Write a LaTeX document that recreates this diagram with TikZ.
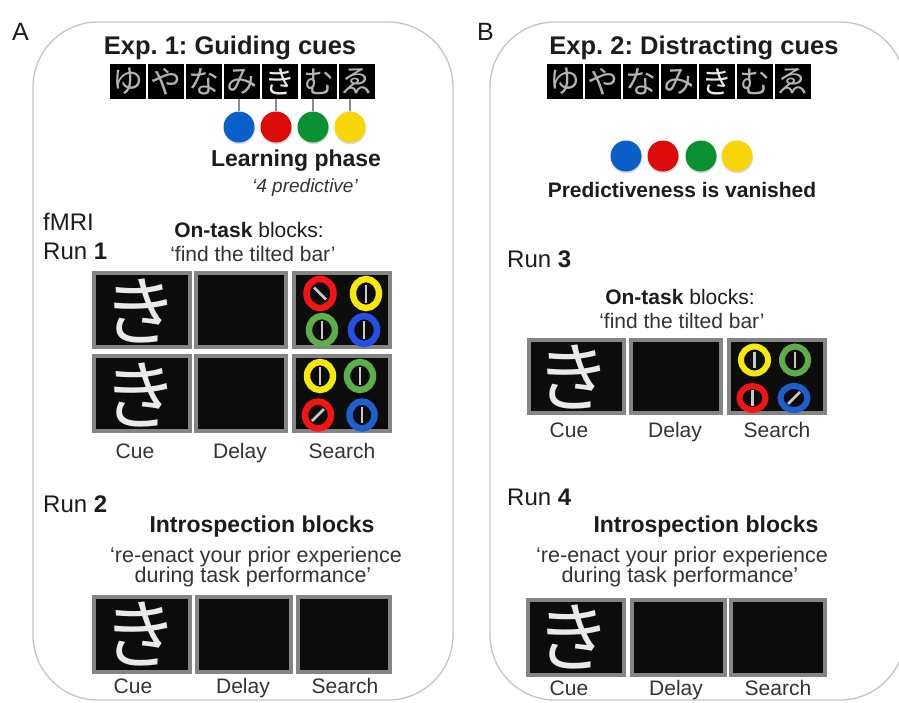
\documentclass[tikz,border=0pt]{standalone}
\usepackage{fontspec}
\setmainfont{Liberation Sans}
\newfontfamily\jp{Noto Sans CJK JP}
\usetikzlibrary{shadows}
\newcommand\myfs[1]{\fontsize{#1}{#1}\selectfont}
\frenchspacing
\definecolor{panelgray}{HTML}{C4C4C4}
\definecolor{textblack}{HTML}{1C1C1C}
\definecolor{textgray}{HTML}{333333}
\definecolor{framegray}{HTML}{858585}
\definecolor{screenblack}{HTML}{0C0C0C}
\definecolor{kanagray}{HTML}{B4B4B4}
\definecolor{kanawhite}{HTML}{EAEAEA}
\definecolor{linkgray}{HTML}{8C8C8C}
\definecolor{lblue}{HTML}{0B5FC9}
\definecolor{lred}{HTML}{DD0A0A}
\definecolor{lgreen}{HTML}{0A9131}
\definecolor{lyellow}{HTML}{F7D508}
\definecolor{sred}{HTML}{F51414}
\definecolor{syellow}{HTML}{F5E80A}
\definecolor{sgreen}{HTML}{5DAD4A}
\definecolor{sblue}{HTML}{2450E6}
\definecolor{sblueb}{HTML}{1C5FCF}
\definecolor{bargray}{HTML}{C8C8C8}
\begin{document}
\begin{tikzpicture}[x=1pt,y=-1pt,
  panel/.style={draw=panelgray, line width=1.3pt, rounded corners=65pt},
  txt/.style={inner sep=0pt, anchor=base, text=textblack},
  lbl/.style={inner sep=0pt, anchor=base, text=textgray, font=\myfs{21}},
  kcell/.style={fill=black, inner sep=0pt, minimum width=36pt, minimum height=35pt, font=\jp\myfs{31}},
  lcirc/.style={circle, inner sep=0pt, minimum size=31pt, drop shadow={opacity=0.3, shadow xshift=0.4pt, shadow yshift=-1.8pt}},
  screen/.style={draw=framegray, line width=4pt, fill=screenblack, inner sep=0pt},
  cuechar/.style={text=kanawhite, font=\jp\myfs{76}},
  ringA/.style={line width=6.5pt},
  ringB/.style={line width=6pt},
  barline/.style={draw=bargray, line width=2.6pt},
  link/.style={draw=linkgray, line width=1.3pt}
]
\useasboundingbox (0,0) rectangle (899,702);
% panels
\draw[panel] (33,22) rectangle (453,700);
\draw[panel] (490,22) rectangle (905,700);
\node[txt, anchor=base west, font=\myfs{25}] (labA) at (12,40) {A};
\node[txt, anchor=base west, font=\myfs{25}] (labB) at (477,40) {B};

% ===== Panel A =====
\node[txt, font=\bfseries\myfs{25.5}] (titleA) at (230,54) {Exp. 1: Guiding cues};
\foreach \k/\c [count=\i from 0] in {ゆ/kanagray,や/kanagray,な/kanagray,み/kanagray,き/kanawhite,む/kanagray,ゑ/kanagray}{
  \node[kcell, text=\c] (kA\i) at ({128+38.1*\i},81.5) {\k};
}
\node[lcirc, fill=lblue] (cAb) at (239,127) {};
\node[lcirc, fill=lred] (cAr) at (276,127) {};
\node[lcirc, fill=lgreen] (cAg) at (313,127) {};
\node[lcirc, fill=lyellow] (cAy) at (350,127) {};
\draw[link] (cAb.north) -- (cAb.north |- kA3.south);
\draw[link] (cAr.north) -- (cAr.north |- kA4.south);
\draw[link] (cAg.north) -- (cAg.north |- kA5.south);
\draw[link] (cAy.north) -- (cAy.north |- kA6.south);
\node[txt, font=\bfseries\myfs{23}] (learn) at (296,166) {Learning phase};
\node[txt, text=textgray, font=\itshape\myfs{19}] (pred) at (305,192) {‘4 predictive’};

\node[txt, anchor=base west, font=\myfs{24}] (fmri) at (43,230) {fMRI};
\node[txt, anchor=base west, font=\myfs{24}] (run1) at (43,259) {Run \textbf{1}};
\node[txt, font=\myfs{21}] (ontA) at (249,237) {\textbf{On-task} blocks:};
\node[txt, text=textgray, font=\myfs{21}] (findA) at (253,261) {‘find the tilted bar’};

% run 1 row 1
\node[screen, minimum width=96pt, minimum height=74pt] (a1cue) at (142,310) {};
\node[cuechar] (a1k) at (140,311) {き};
\node[screen, minimum width=90pt, minimum height=74pt] (a1del) at (241,310) {};
\node[screen, minimum width=96pt, minimum height=74pt] (a1sea) at (342,310) {};
\draw[ringA, draw=sred] (320,293.5) ellipse [x radius=13.5pt, y radius=14.5pt];
\draw[ringA, draw=syellow] (366,293.5) ellipse [x radius=13pt, y radius=14.5pt];
\draw[ringA, draw=sgreen] (322,330) ellipse [x radius=13pt, y radius=14pt];
\draw[ringA, draw=sblue] (364,330) ellipse [x radius=13pt, y radius=14pt];
\draw[barline] (314,287.5) -- (326,299.5);
\draw[barline] (366,284.5) -- (366,302.5);
\draw[barline] (322,321) -- (322,339);
\draw[barline] (364,321) -- (364,339);
% run 1 row 2
\node[screen, minimum width=96pt, minimum height=75pt] (a2cue) at (142,393.5) {};
\node[cuechar] (a2k) at (140,394.5) {き};
\node[screen, minimum width=90pt, minimum height=75pt] (a2del) at (241,393.5) {};
\node[screen, minimum width=96pt, minimum height=75pt] (a2sea) at (342,393.5) {};
\draw[ringA, draw=syellow] (320,376) ellipse [x radius=13pt, y radius=14pt];
\draw[ringA, draw=sgreen] (360,376) ellipse [x radius=13pt, y radius=14pt];
\draw[ringA, draw=sred] (318,415) ellipse [x radius=13pt, y radius=13.5pt];
\draw[ringA, draw=sblueb] (362,415) ellipse [x radius=12.5pt, y radius=13.5pt];
\draw[barline] (320,367) -- (320,385);
\draw[barline] (360,367) -- (360,385);
\draw[barline] (312,421) -- (324,409);
\draw[barline] (362,407) -- (362,423);
\node[lbl] (a1l1) at (135,458) {Cue};
\node[lbl] (a1l2) at (240,458) {Delay};
\node[lbl] (a1l3) at (342,458) {Search};

% run 2
\node[txt, anchor=base west, font=\myfs{24}] (run2) at (43,512) {Run \textbf{2}};
\node[txt, font=\bfseries\myfs{23}] (introA) at (262,532) {Introspection blocks};
\node[txt, text=textgray, font=\myfs{21.5}] (reA1) at (256,562) {‘re-enact your prior experience};
\node[txt, text=textgray, font=\myfs{21.5}] (reA2) at (253,582) {during task performance’};
\node[screen, minimum width=96pt, minimum height=75pt] (a3cue) at (142,634.5) {};
\node[cuechar] (a3k) at (140,634) {き};
\node[screen, minimum width=94pt, minimum height=75pt] (a3del) at (244,634.5) {};
\node[screen, minimum width=92pt, minimum height=75pt] (a3sea) at (344,634.5) {};
\node[lbl] (a3l1) at (133,693) {Cue};
\node[lbl] (a3l2) at (243,693) {Delay};
\node[lbl] (a3l3) at (345,693) {Search};

% ===== Panel B =====
\node[txt, font=\bfseries\myfs{25.5}] (titleB) at (694,54) {Exp. 2: Distracting cues};
\foreach \k/\c [count=\i from 0] in {ゆ/kanagray,や/kanagray,な/kanagray,み/kanagray,き/kanawhite,む/kanagray,ゑ/kanagray}{
  \node[kcell, text=\c] (kB\i) at ({565+38*\i},81.5) {\k};
}
\node[lcirc, fill=lblue] (cBb) at (626,156) {};
\node[lcirc, fill=lred] (cBr) at (663,156) {};
\node[lcirc, fill=lgreen] (cBg) at (701,156) {};
\node[lcirc, fill=lyellow] (cBy) at (737,156) {};
\node[txt, font=\bfseries\myfs{21}] (vanish) at (682,197) {Predictiveness is vanished};

\node[txt, anchor=base west, font=\myfs{24}] (run3) at (507,267) {Run \textbf{3}};
\node[txt, font=\myfs{21}] (ontB) at (680,304) {\textbf{On-task} blocks:};
\node[txt, text=textgray, font=\myfs{21}] (findB) at (682,328) {‘find the tilted bar’};
\node[screen, minimum width=95pt, minimum height=73pt] (b1cue) at (576.5,376.5) {};
\node[cuechar] (b1k) at (573,377) {き};
\node[screen, minimum width=90pt, minimum height=73pt] (b1del) at (676,376.5) {};
\node[screen, minimum width=96pt, minimum height=73pt] (b1sea) at (777,376.5) {};
\draw[ringB, draw=syellow] (754.5,360) ellipse [x radius=13.5pt, y radius=13.5pt];
\draw[ringB, draw=sgreen] (795,360) ellipse [x radius=13pt, y radius=13.5pt];
\draw[ringB, draw=sred] (752.5,398) ellipse [x radius=13pt, y radius=12pt];
\draw[ringB, draw=sblueb] (794,398) ellipse [x radius=13.5pt, y radius=12pt];
\draw[barline] (754.5,352) -- (754.5,368);
\draw[barline] (795,352) -- (795,368);
\draw[barline] (752.5,390) -- (752.5,406);
\draw[barline] (788,404) -- (800,392);
\node[lbl] (b1l1) at (569,437) {Cue};
\node[lbl] (b1l2) at (675,437) {Delay};
\node[lbl] (b1l3) at (777,437) {Search};

\node[txt, anchor=base west, font=\myfs{24}] (run4) at (507,505) {Run \textbf{4}};
\node[txt, font=\bfseries\myfs{23}] (introB) at (706,532) {Introspection blocks};
\node[txt, text=textgray, font=\myfs{21.5}] (reB1) at (682,562) {‘re-enact your prior experience};
\node[txt, text=textgray, font=\myfs{21.5}] (reB2) at (680,582) {during task performance’};
\node[screen, minimum width=96pt, minimum height=75pt] (b2cue) at (576,637.5) {};
\node[cuechar] (b2k) at (573,637) {き};
\node[screen, minimum width=93pt, minimum height=75pt] (b2del) at (678.5,637.5) {};
\node[screen, minimum width=94pt, minimum height=75pt] (b2sea) at (778,637.5) {};
\node[lbl] (b2l1) at (569,695) {Cue};
\node[lbl] (b2l2) at (676,695) {Delay};
\node[lbl] (b2l3) at (778,695) {Search};
\end{tikzpicture}
\end{document}
